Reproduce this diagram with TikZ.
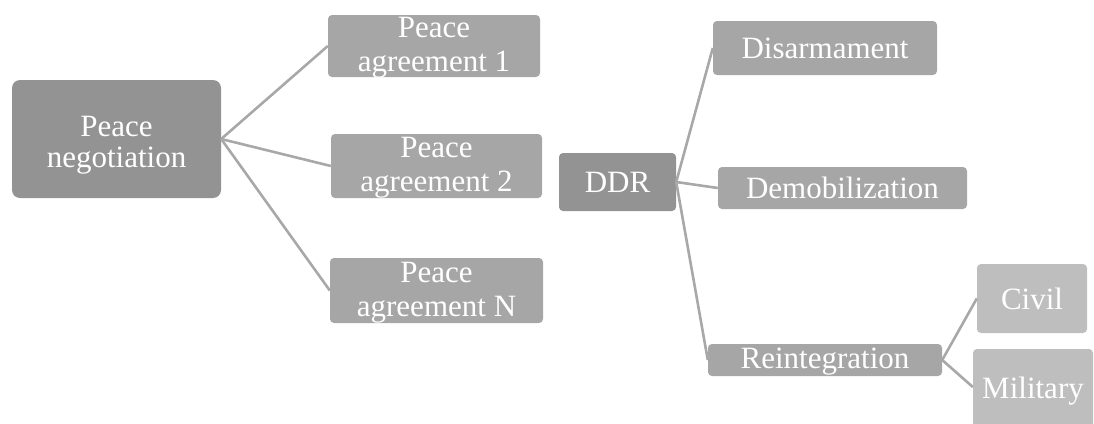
\documentclass[tikz,border=0pt]{standalone}
\usepackage{fontspec}
\setmainfont{Liberation Serif}
\definecolor{boxdark}{RGB}{147,147,147}
\definecolor{boxmid}{RGB}{166,166,166}
\definecolor{boxlight}{RGB}{190,190,190}
\definecolor{linkgray}{RGB}{168,168,168}
\begin{document}
\begin{tikzpicture}[x=1pt,y=-1pt,
  box/.style={rectangle, rounded corners=4pt, inner sep=0pt, text=white,
    align=center, font=\fontsize{31}{34}\selectfont},
  dark/.style={box, fill=boxdark},
  mid/.style={box, fill=boxmid},
  light/.style={box, fill=boxlight},
  txt/.style={inner sep=0pt, text=white, align=center},
  link/.style={draw=linkgray, line width=2.6pt}]
\useasboundingbox (0,0) rectangle (1094,423);
\clip (0,0) rectangle (1094,423);

% negotiation stage
\node[dark, rounded corners=8pt, minimum width=209pt, minimum height=118pt,
  label={[txt, font=\fontsize{31}{31}\selectfont, yshift=-6pt]center:Peace\\negotiation}] (neg) at (116.5,139) {};
\node[mid, minimum width=212pt, minimum height=62pt,
  label={[txt, font=\fontsize{31}{34}\selectfont, yshift=-2pt]center:Peace\\agreement 1}] (a1) at (434,46) {};
\node[mid, minimum width=211pt, minimum height=64pt,
  label={[txt, font=\fontsize{31}{34}\selectfont, yshift=-2pt]center:Peace\\agreement 2}] (a2) at (436.5,166) {};
\node[mid, minimum width=213pt, minimum height=65pt,
  label={[txt, font=\fontsize{31}{34}\selectfont, yshift=-2pt]center:Peace\\agreement N}] (aN) at (436.5,290.5) {};

% DDR stage
\node[dark, minimum width=117pt, minimum height=58pt] (ddr) at (617.5,182) {DDR};
\node[mid, minimum width=224pt, minimum height=54pt] (dis) at (825,48) {Disarmament};
\node[mid, minimum width=249pt, minimum height=42pt] (dem) at (842.5,188) {Demobilization};
\node[mid, minimum width=234pt, minimum height=32pt, text depth=4pt] (rei) at (825,360) {Reintegration};
\node[light, minimum width=110pt, minimum height=69pt] (civ) at (1032,298.5) {Civil};
\node[light, minimum width=120pt, minimum height=84pt] (mil) at (1033,391) {Military};

% connectors
\draw[link] (neg.east) -- (a1.west);
\draw[link] (neg.east) -- (a2.west);
\draw[link] (neg.east) -- (aN.west);
\draw[link] (ddr.east) -- (dis.west);
\draw[link] (ddr.east) -- (dem.west);
\draw[link] (ddr.east) -- (rei.west);
\draw[link] (rei.east) -- (civ.west);
\draw[link] (rei.east) -- ([yshift=4pt]mil.west);
\end{tikzpicture}
\end{document}
